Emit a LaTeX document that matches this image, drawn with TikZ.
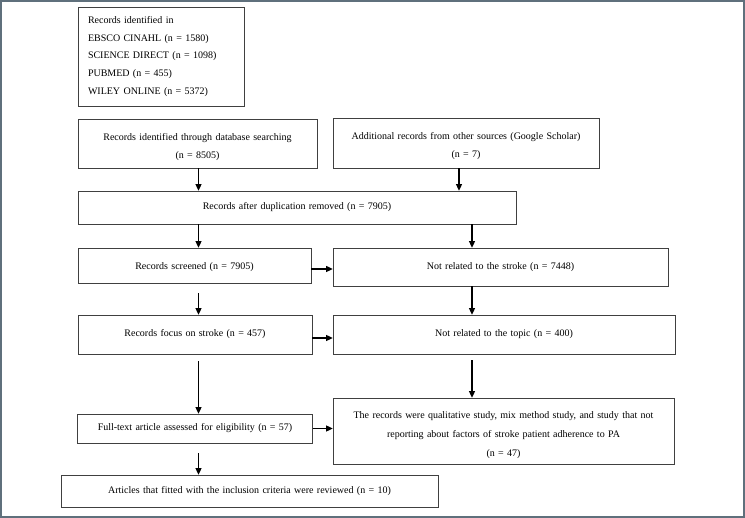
\documentclass[tikz,border=0pt]{standalone}
\usepackage{fontspec}
\setmainfont{Liberation Serif}
\usetikzlibrary{arrows.meta}
\definecolor{framec}{HTML}{5F707C}
\newcommand{\downstrut}[1]{\rule{0pt}{#1}}
\begin{document}
\begin{tikzpicture}[x=1pt,y=-1pt,
  box/.style={draw=black!75, line width=0.7pt, rectangle, inner sep=0pt, align=center,
    font=\fontsize{10}{18}\selectfont},
  arr/.style={draw=black, line width=1.1pt, -{Triangle[length=6.5pt,width=6pt]}}]
\useasboundingbox (0,0) rectangle (745,518);
\draw[framec, line width=2.2pt] (1.1,1.1) rectangle (743.9,516.9);
% boxes
\node[box, align=left, text width=146pt, inner xsep=10pt, minimum height=99pt,
  font=\fontsize{10}{17.7}\selectfont] (A) at (161,56.5)
  {Records identified in\\EBSCO CINAHL (n = 1580)\\SCIENCE DIRECT (n = 1098)\\PUBMED (n = 455)\\WILEY ONLINE (n = 5372)};
\node[box, text width=239pt, minimum height=49pt] (B) at (197.5,143.5)
  {\downstrut{14pt}Records identified through database searching\\(n = 8505)};
\node[box, text width=266pt, minimum height=50pt] (C) at (466,143)
  {\downstrut{14pt}Additional records from other sources (Google Scholar)\\(n = 7)};
\node[box, text width=438pt, minimum height=33pt] (D) at (297,207.5)
  {Records after duplication removed (n = 7905)};
\node[box, text width=233pt, minimum height=35pt] (E) at (194.5,265.5)
  {\downstrut{10pt}Records screened (n = 7905)};
\node[box, text width=335pt, minimum height=38pt] (F) at (500.5,267)
  {Not related to the stroke (n = 7448)};
\node[box, text width=234pt, minimum height=39pt] (G) at (195,334.5)
  {Records focus on stroke (n = 457)};
\node[box, text width=342pt, minimum height=39pt] (H) at (504,334.5)
  {Not related to the topic (n = 400)};
\node[box, text width=235pt, minimum height=29pt] (I) at (195,428.5)
  {Full-text article assessed for eligibility (n = 57)};
\node[box, text width=341pt, minimum height=66pt, font=\fontsize{10}{19}\selectfont] (J) at (503.5,431)
  {\downstrut{15pt}The records were qualitative study, mix method study, and study that not\\reporting about factors of stroke patient adherence to PA\\(n = 47)};
\node[box, text width=377pt, minimum height=32pt] (K) at (249.5,491)
  {Articles that fitted with the inclusion criteria were reviewed (n = 10)};
% columns for connectors
\coordinate (colL) at (198.5,0);
\coordinate (colC) at (459,0);
\coordinate (colR) at (472,0);
% connectors
\draw[arr] (B.south -| colL) -- (D.north -| colL);
\draw[arr] (C.south -| colC) -- (D.north -| colC);
\draw[arr] (D.south -| colL) -- (E.north -| colL);
\draw[arr] (D.south -| colR) -- (F.north -| colR);
\draw[arr] ([yshift=-10pt]E.south -| colL) -- (G.north -| colL);
\draw[arr] ([yshift=-3.5pt]E.east) -- ([yshift=-3.5pt]F.west |- E.east);
\draw[arr] (F.south -| colR) -- (H.north -| colR);
\draw[arr] ([yshift=-3.5pt]G.east) -- ([yshift=-3.5pt]H.west |- G.east);
\draw[arr] ([yshift=-7pt]G.south -| colL) -- (I.north -| colL);
\draw[arr] ([yshift=-6pt]H.south -| colR) -- (J.north -| colR);
\draw[arr] (I.east) -- (J.west |- I.east);
\draw[arr] ([yshift=-10pt]I.south -| colL) -- (K.north -| colL);
\end{tikzpicture}
\end{document}
